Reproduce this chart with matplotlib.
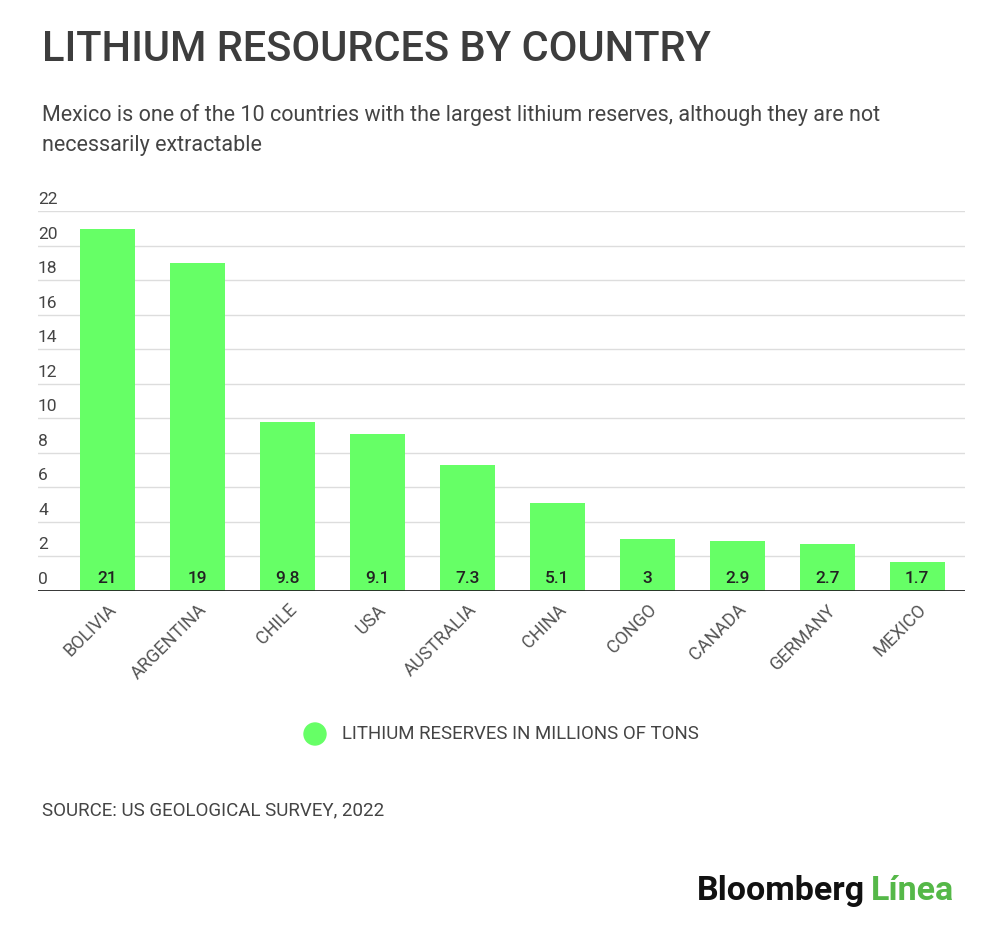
import matplotlib.pyplot as plt
from matplotlib.patches import Ellipse
import numpy as np

countries = ["BOLIVIA", "ARGENTINA", "CHILE", "USA", "AUSTRALIA",
             "CHINA", "CONGO", "CANADA", "GERMANY", "MEXICO"]
reserves = [21, 19, 9.8, 9.1, 7.3, 5.1, 3, 2.9, 2.7, 1.7]
value_labels = ["21", "19", "9.8", "9.1", "7.3", "5.1", "3", "2.9", "2.7", "1.7"]
y_ticks = [0, 2, 4, 6, 8, 10, 12, 14, 16, 18, 20, 22]

title = "LITHIUM RESOURCES BY COUNTRY"
subtitle = ("Mexico is one of the 10 countries with the largest lithium reserves, although they are not\n"
            "necessarily extractable")
legend_label = "LITHIUM RESERVES IN MILLIONS OF TONS"
source = "SOURCE: US GEOLOGICAL SURVEY, 2022"

green = "#66ff66"
text_dark = "#3d3d3d"

plt.rcParams['font.family'] = ['Roboto', 'DejaVu Sans']

fig = plt.figure(figsize=(10, 9.35), dpi=100)
ax = fig.add_axes([0.038, 0.368, 0.927, 0.406])

x = np.arange(len(countries))
ax.bar(x, reserves, width=0.61, color=green, zorder=2)

for xi, lab in zip(x, value_labels):
    ax.text(xi, 0.3, lab, ha='center', va='bottom', fontsize=12.5,
            color="#222222", fontweight='medium', zorder=3)

ax.set_xlim(-0.772, 9.53)
ax.set_ylim(0, 22)

# gridlines with labels sitting above them on the left
for t in y_ticks:
    if t > 0:
        ax.axhline(t, color="#dddddd", linewidth=1, zorder=1)
    ax.text(-0.772, t + 0.25, str(t), ha='left', va='bottom', fontsize=12.5,
            color="#444444")

ax.axhline(0, color="#222222", linewidth=2, zorder=4)

for s in ax.spines.values():
    s.set_visible(False)
ax.set_yticks([])
ax.set_xticks(x)
ax.set_xticklabels(countries, rotation=45, ha='right', rotation_mode='anchor',
                   fontsize=13, color="#555555")
ax.tick_params(axis='x', length=0, pad=7)

fig.text(0.042, 0.947, title, fontsize=30, fontweight='medium', color=text_dark,
         va='center', ha='left')
fig.text(0.042, 1 - 130 / 935, subtitle, fontsize=15.5, color="#444444", va='center',
         ha='left', linespacing=1.6)

# legend
ly = 1 - 734 / 935
fig.add_artist(Ellipse((0.315, ly), 0.022, 0.022 * 1000 / 935, transform=fig.transFigure,
                       color=green))
fig.text(0.342, ly, legend_label, fontsize=13.4, color="#444444",
         va='center', ha='left')

fig.text(0.042, 1 - 810 / 935, source, fontsize=13.5, color="#444444",
         va='center', ha='left')

t1 = fig.text(0.697, 1 - 891 / 935, "Bloomberg", fontsize=24.5, fontweight='bold',
              color="#111111", va='center', ha='left')
fig.canvas.draw()
bb = t1.get_window_extent()
fig.text(bb.x1 / fig.bbox.width + 0.006, 1 - 891 / 935, "Línea", fontsize=24.5,
         fontweight='bold', color="#55b848", va='center', ha='left')

fig.savefig("out.png", dpi=100, facecolor="white")
